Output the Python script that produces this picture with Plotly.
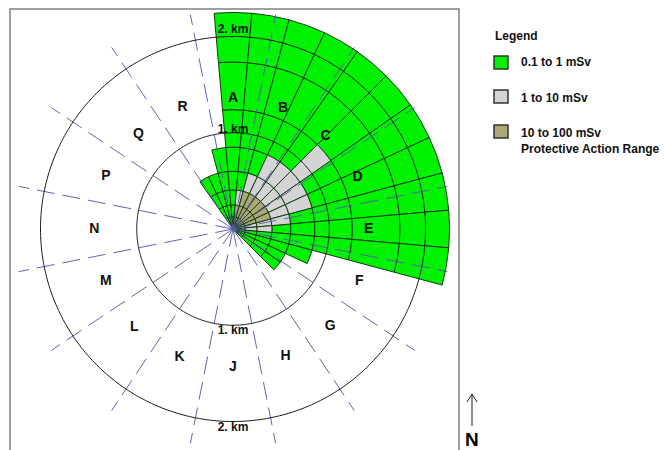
import numpy as np
import plotly.graph_objects as go

W, H = 664, 450
PX_PER_KM = 96.25
CX, CY = 233, 229
R_PX = 221

# 10-degree plume bins (compass bearing of bin centre, degrees)
bin_bearing = [-30, -20, -10, 0, 10, 20, 30, 40, 50, 60, 70, 80, 90, 100, 110, 120, 130]
# ring boundaries of the plume grid, km
ring_km = [0, 0.125, 0.25, 0.405, 0.60, 0.85, 1.24, 1.735, 2.25]
# outer extent of each dose band per bin, km
tan_km =   [0, 0, 0, 0, 0.25, 0.405, 0.405, 0.405, 0.405, 0.405, 0.405, 0, 0, 0, 0, 0, 0]
gray_km =  [0, 0, 0, 0, 0.405, 0.60, 0.85, 0.85, 1.24, 0.85, 0.85, 0.60, 0.405, 0, 0, 0, 0]
green_km = [0.60, 0.60, 0.85, 2.25, 2.25, 2.25, 2.25, 2.25, 2.25, 2.25, 2.25, 2.25,
            2.25, 2.25, 0.85, 0.60, 0.60]

sector_labels = ["A", "B", "C", "D", "E", "F", "G", "H", "J", "K", "L", "M", "N", "P", "Q", "R"]
sector_label_km = [1.36, 1.36, 1.36, 1.40, 1.41, 1.42, 1.43, 1.43, 1.44, 1.45, 1.45, 1.43, 1.44,
                   1.43, 1.39, 1.37]
sector_step = 22.5
range_labels = ["2. km", "1. km", "1. km", "2. km"]
range_label_bearing = [0, 0, 180, 180]
range_label_km = [2.07, 1.03, 1.06, 2.07]
circle_km = [1, 2]

legend_title = "Legend"
legend_names = ["0.1 to 1 mSv", "1 to 10 mSv", "10 to 100 mSv<br>Protective Action Range"]

GREEN, GRAY, TAN = "#00f200", "#d4d4d4", "#aca878"
EDGE = "#123c12"
DASH = "#5c5cb0"
FONT = "Liberation Sans"

cells = {GREEN: ([], [], []), GRAY: ([], [], []), TAN: ([], [], [])}
for b, t, g, o in zip(bin_bearing, tan_km, gray_km, green_km):
    for lo, hi in zip(ring_km[:-1], ring_km[1:]):
        if hi > o:
            continue
        colour = TAN if hi <= t else GRAY if hi <= g else GREEN
        thetas, bases, widths = cells[colour]
        thetas.append(b)
        bases.append(lo)
        widths.append(hi - lo)

fig = go.Figure()
for colour, (thetas, bases, widths) in cells.items():
    fig.add_trace(go.Barpolar(theta=thetas, base=bases, r=widths, width=10,
                              marker=dict(color=colour, line=dict(color=EDGE, width=1)),
                              showlegend=False, hoverinfo="skip"))

# 16 dashed sector boundaries
for k in range(16):
    bearing = sector_step / 2 + k * sector_step
    fig.add_trace(go.Scatterpolar(theta=[bearing, bearing], r=[0, 2.27], mode="lines",
                                  line=dict(color=DASH, width=1, dash="18px,8px"),
                                  opacity=0.95, showlegend=False, hoverinfo="skip"))

# range circles
circle_theta = np.linspace(0, 360, 361)
for km in circle_km:
    fig.add_trace(go.Scatterpolar(theta=circle_theta, r=np.full(361, km), mode="lines",
                                  line=dict(color="#1c1c1c", width=1),
                                  showlegend=False, hoverinfo="skip"))

fig.add_trace(go.Scatterpolar(theta=[k * sector_step for k in range(16)], r=sector_label_km,
                              mode="text", text=sector_labels,
                              textfont=dict(family=FONT, size=14, color="#111111", weight="bold"),
                              showlegend=False, hoverinfo="skip"))
fig.add_trace(go.Scatterpolar(theta=range_label_bearing, r=range_label_km, mode="text",
                              text=range_labels,
                              textfont=dict(family=FONT, size=12, color="#111111", weight="bold"),
                              showlegend=False, hoverinfo="skip"))


def px(x):
    return x / W


def py(y):
    return 1 - y / H


annotations = [dict(x=px(493), y=py(36), text=f"<b>{legend_title}</b>", xanchor="left", yanchor="middle",
                    xref="paper", yref="paper", showarrow=False,
                    font=dict(family=FONT, size=12, color="#111111")),
               dict(x=px(472), y=py(439), text="<b>N</b>", xanchor="center", yanchor="middle",
                    xref="paper", yref="paper", showarrow=False,
                    font=dict(family=FONT, size=19, color="#000000"))]
shapes = [dict(type="rect", xref="paper", yref="paper", x0=px(10), x1=px(459), y0=py(9), y1=py(470),
               line=dict(color="#808080", width=1.5), layer="below")]
for name, colour, top, text_y in zip(legend_names, [GREEN, GRAY, TAN], [56, 90, 125], [62, 98, 141]):
    shapes.append(dict(type="rect", xref="paper", yref="paper", x0=px(494), x1=px(508),
                       y0=py(top), y1=py(top + 13), fillcolor=colour,
                       line=dict(color="#333333", width=1.5)))
    annotations.append(dict(x=px(519), y=py(text_y), text=f"<b>{name}</b>", xanchor="left", yanchor="middle",
                            align="left", xref="paper", yref="paper", showarrow=False,
                            font=dict(family=FONT, size=12, color="#111111")))
# north arrow
for x0, y0, x1, y1 in [(472, 394, 472, 426), (472, 394, 467, 402), (472, 394, 477, 402)]:
    shapes.append(dict(type="line", xref="paper", yref="paper", x0=px(x0), x1=px(x1), y0=py(y0), y1=py(y1),
                       line=dict(color="#222222", width=1)))

fig.update_layout(
    width=W, height=H, margin=dict(l=0, r=0, t=0, b=0), paper_bgcolor="white",
    showlegend=False,
    polar=dict(
        domain=dict(x=[px(CX - R_PX), px(CX + R_PX)], y=[py(CY + R_PX), py(CY - R_PX)]),
        bgcolor="rgba(0,0,0,0)", bargap=0,
        radialaxis=dict(visible=False, range=[0, R_PX / PX_PER_KM]),
        angularaxis=dict(visible=False, rotation=90, direction="clockwise"),
    ),
    annotations=annotations, shapes=shapes,
)
fig.write_html("out.html", config=dict(displayModeBar=False),
               post_script="document.body.style.margin='0';")
